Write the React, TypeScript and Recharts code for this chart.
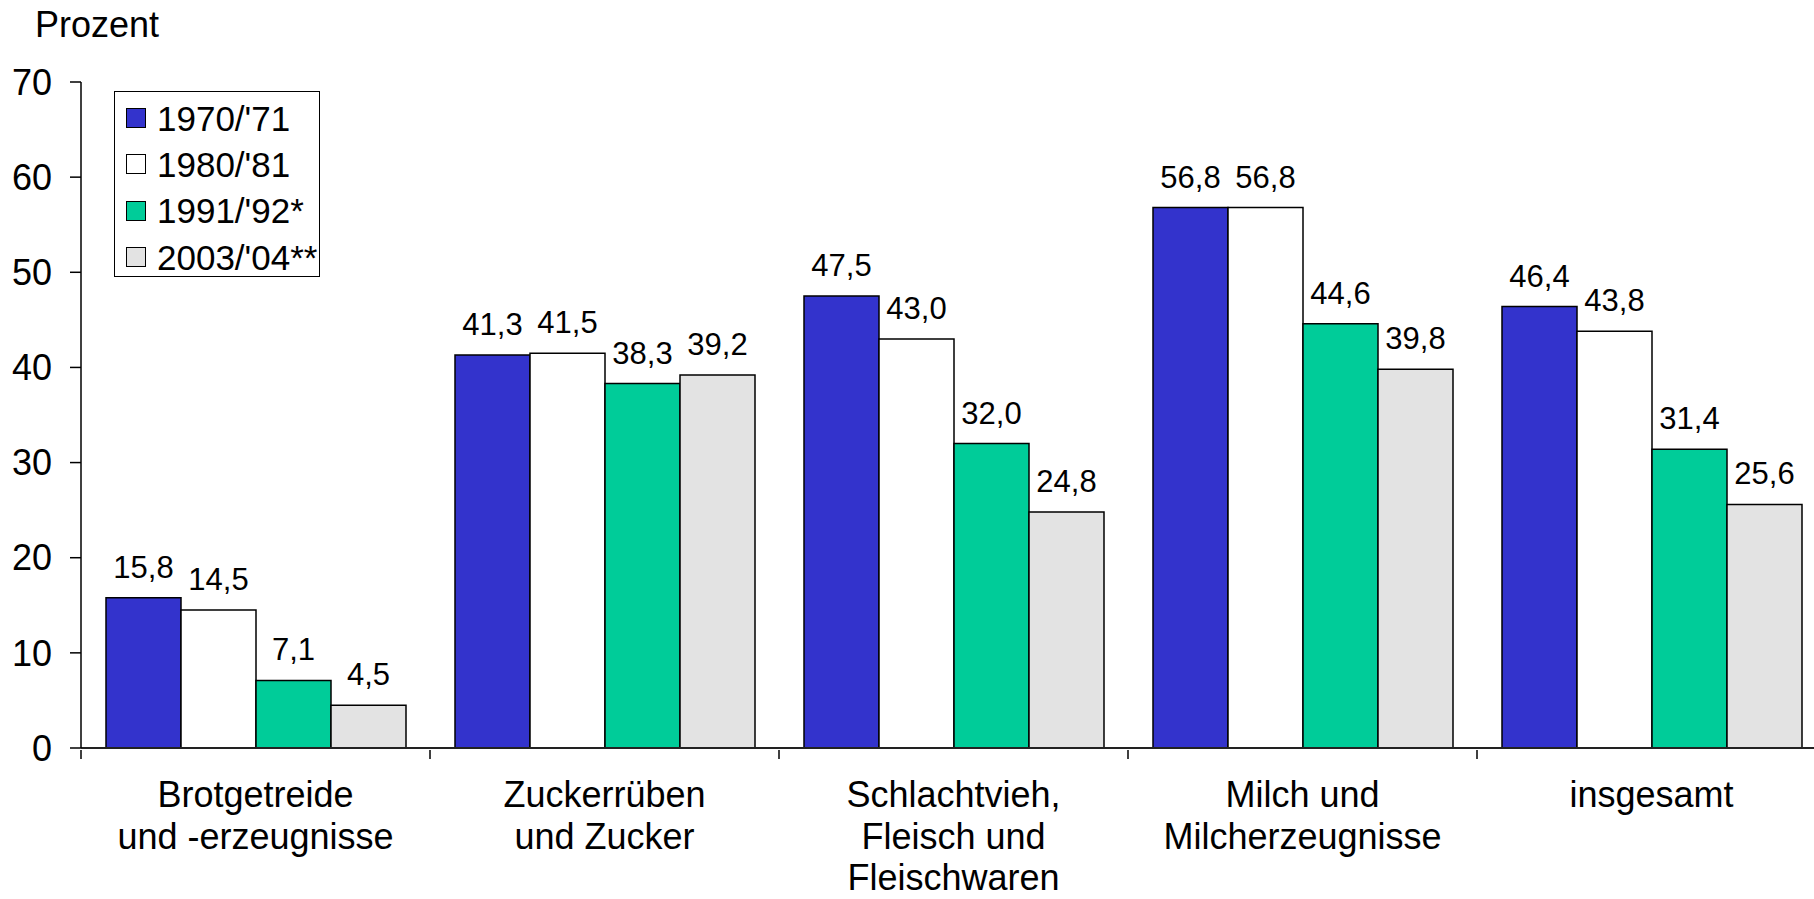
import React from 'react';
import { Bar, BarChart, LabelList, Legend, XAxis, YAxis } from 'recharts';

const categories = [
  'Brotgetreide\nund -erzeugnisse',
  'Zuckerrüben\nund Zucker',
  'Schlachtvieh,\nFleisch und\nFleischwaren',
  'Milch und\nMilcherzeugnisse',
  'insgesamt',
];
const seriesNames = ["1970/'71", "1980/'81", "1991/'92*", "2003/'04**"];
const v1970 = [15.8, 41.3, 47.5, 56.8, 46.4];
const v1980 = [14.5, 41.5, 43.0, 56.8, 43.8];
const v1991 = [7.1, 38.3, 32.0, 44.6, 31.4];
const v2003 = [4.5, 39.2, 24.8, 39.8, 25.6];
const yTicks = [0, 10, 20, 30, 40, 50, 60, 70];

const COLORS = ['#3333CC', '#FFFFFF', '#00CC99', '#E3E3E3'];
const FONT = '"Liberation Sans", Arial, sans-serif';

const data = categories.map((name, i) => ({
  name,
  s0: v1970[i],
  s1: v1980[i],
  s2: v1991[i],
  s3: v2003[i],
}));

const fmt = (v: any) => Number(v).toFixed(1).replace('.', ',');

// label under the band centre, tick line on the band's left edge
function CategoryTick(props: any) {
  const { x, y, payload, width, visibleTicksCount } = props;
  const band = (width || 1745) / (visibleTicksCount || categories.length);
  const left = x - band / 2;
  const lines = String(payload.value).split('\n');
  return (
    <g>
      <line x1={left} x2={left} y1={y} y2={y + 9} stroke="#000" strokeWidth={1.5} />
      <text x={x} y={y + 57} textAnchor="middle" fontSize={36} fontFamily={FONT} fill="#000">
        {lines.map((l, i) => (
          <tspan key={i} x={x} dy={i === 0 ? 0 : 41.5}>
            {l}
          </tspan>
        ))}
      </text>
    </g>
  );
}

const renderLegend = (props: any) => (
  <div
    style={{
      boxSizing: 'border-box',
      width: 206,
      height: 186,
      border: '1px solid #000',
      background: '#fff',
      paddingTop: 3,
    }}
  >
    {(props.payload || []).map((p: any, i: number) => (
      <div key={i} style={{ display: 'flex', alignItems: 'center', height: 46.3 }}>
        <span
          style={{
            display: 'inline-block',
            boxSizing: 'border-box',
            width: 20,
            height: 20,
            marginLeft: 11,
            marginRight: 11,
            background: COLORS[i],
            border: '1px solid #000',
          }}
        />
        <span style={{ fontSize: 35, fontFamily: FONT, lineHeight: 1, color: '#000' }}>
          {p.value}
        </span>
      </div>
    ))}
  </div>
);

export default function App() {
  const keys = ['s0', 's1', 's2', 's3'];
  return (
    <div style={{ position: 'relative', width: 1814, height: 899, overflow: 'hidden', background: '#fff' }}>
      <style>{'body{margin:0}'}</style>
      <div
        style={{
          position: 'absolute',
          left: 35,
          top: 7,
          fontSize: 36,
          lineHeight: '36px',
          fontFamily: FONT,
          color: '#000',
          zIndex: 2,
        }}
      >
        Prozent
      </div>
      <BarChart
        width={1840}
        height={899}
        data={data}
        margin={{ top: 82, right: 14, bottom: 0, left: 0 }}
        barCategoryGap={25}
        barGap={0}
      >
        <XAxis
          dataKey="name"
          height={151}
          interval={0}
          tickSize={0}
          tickLine={false}
          tick={<CategoryTick />}
          axisLine={{ stroke: '#222', strokeWidth: 2 }}
        />
        <YAxis
          width={81}
          domain={[0, 70]}
          ticks={yTicks}
          interval={0}
          tickSize={11}
          tickMargin={18}
          axisLine={{ stroke: '#000', strokeWidth: 1.5 }}
          tickLine={{ stroke: '#000', strokeWidth: 1.5 }}
          tick={{ fontSize: 36, fill: '#000', fontFamily: FONT }}
        />
        <Legend
          layout="vertical"
          align="center"
          verticalAlign="middle"
          content={renderLegend}
          wrapperStyle={{ left: 114, top: 91, width: 206, height: 186 }}
        />
        {keys.map((k, i) => (
          <Bar
            key={k}
            dataKey={k}
            name={seriesNames[i]}
            fill={COLORS[i]}
            stroke="#000"
            strokeWidth={1.5}
            isAnimationActive={false}
          >
            <LabelList
              dataKey={k}
              position="top"
              offset={20}
              formatter={fmt}
              fill="#000"
              fontSize={31}
              fontFamily={FONT}
            />
          </Bar>
        ))}
      </BarChart>
    </div>
  );
}
